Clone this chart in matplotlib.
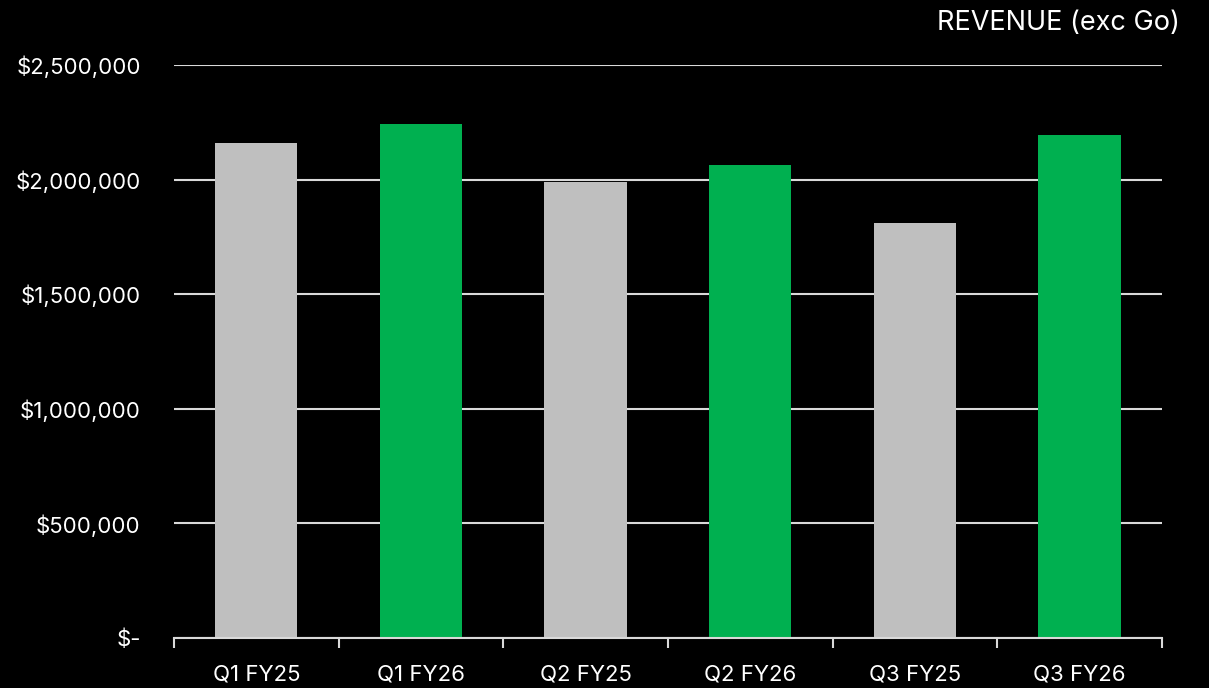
import matplotlib.pyplot as plt
from matplotlib.ticker import FuncFormatter, FixedLocator

# Revenue per quarter (exc Go)
quarters = ['Q1 FY25', 'Q1 FY26', 'Q2 FY25', 'Q2 FY26', 'Q3 FY25', 'Q3 FY26']
revenue = [2160000, 2243000, 1990000, 2064000, 1811000, 2195000]
bar_colors = ['#bfbfbf', '#00b050', '#bfbfbf', '#00b050', '#bfbfbf', '#00b050']

plt.rcParams['font.family'] = ['Inter', 'DejaVu Sans']

fig = plt.figure(figsize=(12.09, 6.88), dpi=100, facecolor='black')
ax = fig.add_axes([0.1439, 0.0727, 0.8172, 0.8328], facecolor='black')

x = range(len(quarters))
ax.bar(x, revenue, width=0.5, color=bar_colors, zorder=3)

ax.set_xlim(-0.5, len(quarters) - 0.5)
ax.set_ylim(0, 2500000)
ax.set_yticks([0, 500000, 1000000, 1500000, 2000000, 2500000])


def money(v, pos):
    if v == 0:
        return '$-'
    return '${:,.0f}'.format(v)


ax.yaxis.set_major_formatter(FuncFormatter(money))
ax.grid(axis='y', color='#d9d9d9', linewidth=1.5, zorder=0)

ax.set_xticks(list(x))
ax.set_xticklabels(quarters)
ax.xaxis.set_minor_locator(FixedLocator([i - 0.5 for i in range(len(quarters) + 1)]))
ax.tick_params(axis='x', which='major', length=0, pad=19, colors='white', labelsize=16)
ax.tick_params(axis='x', which='minor', length=7, width=1.5, color='#d9d9d9')
ax.tick_params(axis='y', length=0, pad=24, colors='white', labelsize=16)

for s in ['top', 'right', 'left']:
    ax.spines[s].set_visible(False)
ax.spines['bottom'].set_color('#d9d9d9')
ax.spines['bottom'].set_linewidth(1.5)
ax.spines['bottom'].set_zorder(4)

fig.text(0.976, 0.966, 'REVENUE (exc Go)', color='white', fontsize=19.5,
         ha='right', va='center')

fig.savefig('out.png', dpi=100, facecolor='black')
